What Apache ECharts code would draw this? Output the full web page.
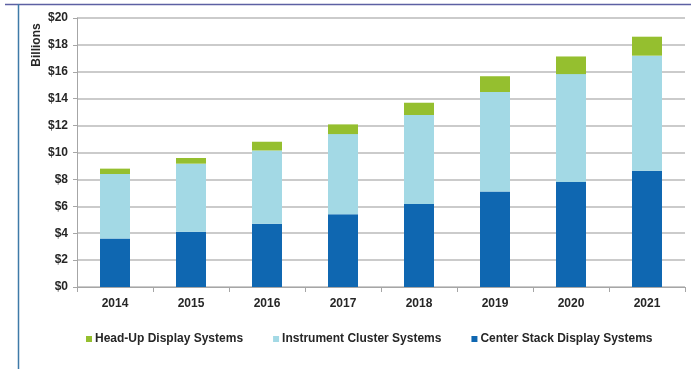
<!DOCTYPE html>
<html>
<head>
<meta charset="utf-8">
<script src="https://cdn.jsdelivr.net/npm/echarts@6/dist/echarts.min.js"></script>
<style>
  html, body { margin: 0; padding: 0; background: #fff; }
  #chart { width: 691px; height: 369px; }
</style>
</head>
<body>
<div id="chart"></div>
<script>
// Automotive display system revenue, billions of dollars
const years = ['2014', '2015', '2016', '2017', '2018', '2019', '2020', '2021'];
const centerStack = [3.6, 4.1, 4.7, 5.4, 6.17, 7.1, 7.8, 8.65];
const instrumentCluster = [4.8, 5.07, 5.45, 5.97, 6.62, 7.4, 8.03, 8.55];
const headUp = [0.4, 0.42, 0.65, 0.72, 0.91, 1.17, 1.31, 1.41];
const yTicks = [0, 2, 4, 6, 8, 10, 12, 14, 16, 18, 20];

const FONT = 'Liberation Sans, Arial, sans-serif';
const TEXT = '#262626';

const chart = echarts.init(document.getElementById('chart'), null, { renderer: 'canvas' });

chart.setOption({
  animation: false,
  backgroundColor: '#ffffff',
  grid: { left: 77, right: 6, top: 18, bottom: 82, containLabel: false },
  legend: {
    data: ['Head-Up Display Systems', 'Instrument Cluster Systems', 'Center Stack Display Systems'],
    left: 81,
    top: 328,
    icon: 'rect',
    itemWidth: 6,
    itemHeight: 6,
    itemGap: 30,
    textStyle: { fontFamily: FONT, fontWeight: 'bold', fontSize: 12, color: TEXT, padding: [0, 0, 0, -2] }
  },
  xAxis: {
    type: 'category',
    data: years,
    axisLine: { lineStyle: { color: '#a6a6a6', width: 1 } },
    axisTick: { show: true, alignWithLabel: false, length: 5, lineStyle: { color: '#a6a6a6' } },
    axisLabel: { fontFamily: FONT, fontWeight: 'bold', fontSize: 12, color: TEXT, margin: 11 }
  },
  yAxis: {
    type: 'value',
    min: yTicks[0],
    max: yTicks[yTicks.length - 1],
    interval: 2,
    axisLine: { show: true, lineStyle: { color: '#a6a6a6', width: 1 } },
    axisTick: { show: true, length: 4, lineStyle: { color: '#a6a6a6' } },
    axisLabel: {
      fontFamily: FONT, fontWeight: 'bold', fontSize: 12, color: TEXT, margin: 9,
      formatter: v => '$' + v
    },
    splitLine: { lineStyle: { color: '#bababa', width: 1.5 } }
  },
  series: [
    {
      name: 'Center Stack Display Systems', type: 'bar', stack: 'total',
      data: centerStack, barWidth: 30, itemStyle: { color: '#0f67b1' }
    },
    {
      name: 'Instrument Cluster Systems', type: 'bar', stack: 'total',
      data: instrumentCluster, barWidth: 30, itemStyle: { color: '#a3d9e5' }
    },
    {
      name: 'Head-Up Display Systems', type: 'bar', stack: 'total',
      data: headUp, barWidth: 30, itemStyle: { color: '#95bf2f' }
    }
  ],
  graphic: [
    {
      type: 'line', silent: true,
      shape: { x1: 5, y1: 4.5, x2: 691, y2: 4.5 },
      style: { stroke: '#5d60a3', lineWidth: 1.5 }
    },
    {
      type: 'line', silent: true,
      shape: { x1: 18.5, y1: 4, x2: 18.5, y2: 369 },
      style: { stroke: '#3f7aa8', lineWidth: 1.5 }
    },
    {
      type: 'text', silent: true,
      x: 37, y: 45, rotation: Math.PI / 2,
      style: {
        text: 'Billions', fill: TEXT,
        font: 'bold 12px ' + FONT,
        align: 'center', verticalAlign: 'middle'
      }
    }
  ]
});
</script>
</body>
</html>
